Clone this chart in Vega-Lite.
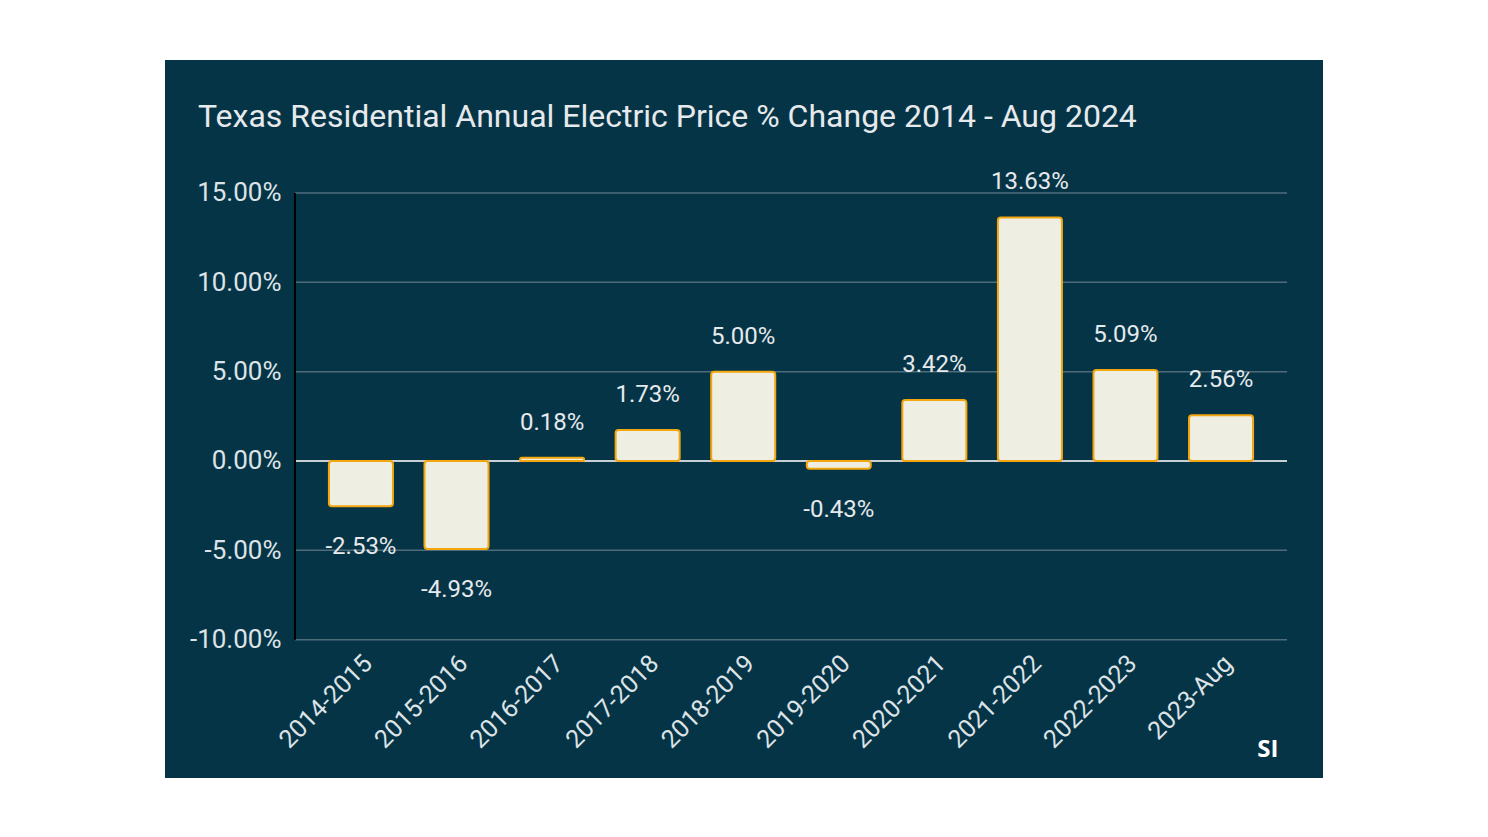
{
  "$schema": "https://vega.github.io/schema/vega-lite/v6.json",
  "width": 1158,
  "height": 718,
  "autosize": {"type": "none"},
  "padding": {"left": 165, "top": 60, "right": 165, "bottom": 59},
  "background": "#ffffff",
  "config": {
    "view": {"fill": "#063447", "stroke": null},
    "font": "Roboto",
    "locale": {"number": {"decimal": ".", "thousands": ",", "grouping": [3], "currency": ["$", ""], "minus": "-"}}
  },
  "title": {
    "text": "Texas Residential Annual Electric Price % Change 2014 - Aug 2024",
    "anchor": "start",
    "frame": "group",
    "orient": "top",
    "offset": -99,
    "baseline": "alphabetic",
    "dx": 33,
    "color": "#e6eaec",
    "fontSize": 32,
    "fontWeight": "normal",
    "font": "Roboto"
  },
  "datasets": {
    "bars": [
      {"cat": "2014-2015", "v": -0.0253},
      {"cat": "2015-2016", "v": -0.0493},
      {"cat": "2016-2017", "v": 0.0018},
      {"cat": "2017-2018", "v": 0.0173},
      {"cat": "2018-2019", "v": 0.05},
      {"cat": "2019-2020", "v": -0.0043},
      {"cat": "2020-2021", "v": 0.0342},
      {"cat": "2021-2022", "v": 0.1363},
      {"cat": "2022-2023", "v": 0.0509},
      {"cat": "2023-Aug", "v": 0.0256}
    ],
    "grid": [
      {"g": -0.1},
      {"g": -0.05},
      {"g": 0.05},
      {"g": 0.1},
      {"g": 0.15}
    ],
    "logo": [{"t": "SI"}]
  },
  "layer": [
    {
      "data": {"name": "grid"},
      "mark": {"type": "rule", "color": "#4f6c7b", "strokeWidth": 1.5},
      "encoding": {
        "x": {"datum": "2014-2015", "type": "nominal", "bandPosition": -0.53},
        "x2": {"datum": "2023-Aug", "bandPosition": 1.53},
        "y": {"field": "g", "type": "quantitative"}
      }
    },
    {
      "data": {"name": "grid"},
      "transform": [{"filter": "datum.g == -0.1"}],
      "mark": {"type": "rule", "color": "#c9d0d4", "strokeWidth": 2},
      "encoding": {
        "x": {"datum": "2014-2015", "type": "nominal", "bandPosition": -0.53},
        "x2": {"datum": "2023-Aug", "bandPosition": 1.53},
        "y": {"datum": 0, "type": "quantitative"}
      }
    },
    {
      "data": {"name": "bars"},
      "mark": {"type": "bar", "fill": "#eeefe2", "stroke": "#f3a60e", "strokeWidth": 2, "cornerRadius": 3},
      "encoding": {
        "x": {
          "field": "cat",
          "type": "nominal",
          "scale": {
            "type": "band",
            "domain": ["2014-2015", "2015-2016", "2016-2017", "2017-2018", "2018-2019", "2019-2020", "2020-2021", "2021-2022", "2022-2023", "2023-Aug"],
            "range": [130, 1122],
            "paddingInner": 0.33,
            "paddingOuter": 0.355,
            "round": false
          },
          "axis": {
            "orient": "bottom",
            "offset": -138,
            "labelAngle": -45,
            "labelAlign": "right",
            "labelBaseline": "middle",
            "labelPadding": 19,
            "labelOffset": 7,
            "domain": false,
            "ticks": false,
            "grid": false,
            "title": null,
            "labelFontSize": 25,
            "labelColor": "#dde3e6",
            "labelFont": "Roboto"
          }
        },
        "y": {
          "field": "v",
          "type": "quantitative",
          "scale": {"domain": [-0.1774, 0.2244], "nice": false, "zero": false},
          "axis": {
            "orient": "left",
            "offset": -130,
            "values": [-0.1, -0.05, 0, 0.05, 0.1, 0.15],
            "format": ".2%",
            "labelPadding": 14,
            "domain": false,
            "ticks": false,
            "grid": false,
            "title": null,
            "labelFontSize": 26,
            "labelColor": "#dde3e6",
            "labelFont": "Roboto"
          }
        },
        "y2": {"datum": 0}
      }
    },
    {
      "data": {"name": "grid"},
      "transform": [{"filter": "datum.g == -0.1"}],
      "mark": {"type": "rule", "color": "#000000", "strokeWidth": 2},
      "encoding": {
        "x": {"datum": "2014-2015", "type": "nominal", "bandPosition": -0.53},
        "y": {"datum": -0.1, "type": "quantitative"},
        "y2": {"datum": 0.15}
      }
    },
    {
      "data": {"name": "bars"},
      "transform": [{"filter": "datum.v >= 0"}],
      "mark": {"type": "text", "dy": -35, "baseline": "middle", "align": "center", "fontSize": 24, "color": "#e6eaec", "font": "Roboto"},
      "encoding": {
        "x": {"field": "cat", "type": "nominal"},
        "y": {"field": "v", "type": "quantitative"},
        "text": {"field": "v", "type": "quantitative", "format": ".2%"}
      }
    },
    {
      "data": {"name": "bars"},
      "transform": [{"filter": "datum.v < 0"}],
      "mark": {"type": "text", "dy": 41, "baseline": "middle", "align": "center", "fontSize": 24, "color": "#e6eaec", "font": "Roboto"},
      "encoding": {
        "x": {"field": "cat", "type": "nominal"},
        "y": {"field": "v", "type": "quantitative"},
        "text": {"field": "v", "type": "quantitative", "format": ".2%"}
      }
    },
    {
      "data": {"name": "logo"},
      "mark": {"type": "text", "baseline": "middle", "align": "center", "fontSize": 24, "fontWeight": "bold", "color": "#ffffff", "font": "Open Sans"},
      "encoding": {
        "x": {"datum": "2023-Aug", "type": "nominal", "bandPosition": 1.23},
        "y": {"datum": -0.1617, "type": "quantitative"},
        "text": {"field": "t"}
      }
    }
  ]
}
